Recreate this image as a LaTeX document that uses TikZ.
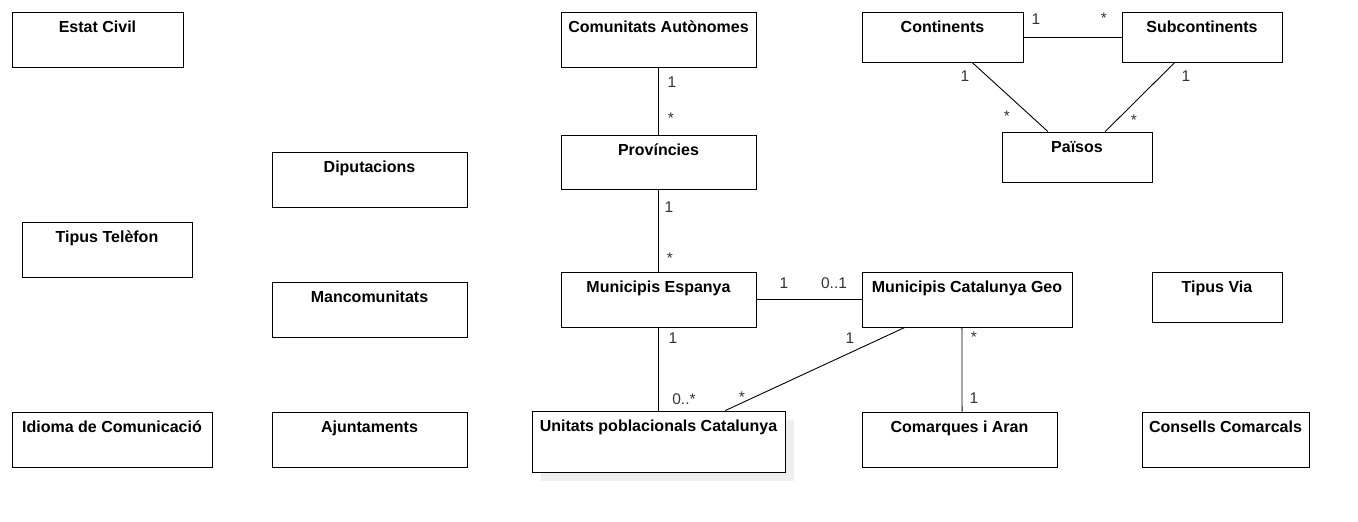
\documentclass[tikz,border=0pt]{standalone}
\usepackage{fontspec}
\setmainfont{Liberation Sans}
\usetikzlibrary{calc,backgrounds}
\definecolor{lblc}{HTML}{333333}
\definecolor{shadc}{HTML}{EFEFEF}
\tikzset{
  ent/.style={draw=black, fill=white, line width=0.9pt, inner sep=0pt, align=center,
    font=\fontsize{16}{18}\selectfont\bfseries, text height=20pt},
  h55/.style={text depth=35pt},
  h50/.style={text depth=30pt},
  h54/.style={text depth=34pt},
  h61/.style={text depth=41pt},
  conn/.style={draw=black, line width=0.9pt},
  mult/.style={text=lblc, font=\fontsize{15.5}{18}\selectfont, inner sep=0pt}
}
\begin{document}
\begin{tikzpicture}[x=1pt,y=-1pt]
\useasboundingbox (0,0) rectangle (1358,522);
% entities
\node[ent,h55,minimum width=171pt] (estat) at (97.5,39.5) {Estat Civil};
\node[ent,h55,minimum width=195pt] (comunitats) at (658.5,39.5) {Comunitats Autònomes};
\node[ent,h50,minimum width=161pt] (continents) at (942.5,37) {Continents};
\node[ent,h50,minimum width=160pt] (subcont) at (1202,37) {Subcontinents};
\node[ent,h50,minimum width=150pt] (paisos) at (1077,157) {Països};
\node[ent,h55,minimum width=195pt] (diputacions) at (369.5,179.5) {Diputacions};
\node[ent,h54,minimum width=195pt] (provincies) at (658.5,162) {Províncies};
\node[ent,h55,minimum width=170pt] (tipustel) at (107,249.5) {Tipus Telèfon};
\node[ent,h55,minimum width=195pt] (mancom) at (369.5,309.5) {Mancomunitats};
\node[ent,h55,minimum width=195pt] (munesp) at (658.5,299.5) {Municipis Espanya};
\node[ent,h55,minimum width=210pt] (mcg) at (967,299.5) {Municipis Catalunya Geo};
\node[ent,h50,minimum width=130pt] (tipusvia) at (1217,297) {Tipus Via};
\node[ent,h55,minimum width=200pt] (idioma) at (112,439.5) {Idioma de Comunicació};
\node[ent,h55,minimum width=195pt] (ajunt) at (369.5,439.5) {Ajuntaments};
\node[ent,h61,minimum width=253pt] (unitats) at (658.5,441.5) {Unitats poblacionals Catalunya};
\node[ent,h55,minimum width=195pt] (comarques) at (959.5,439.5) {Comarques i Aran};
\node[ent,h55,minimum width=167pt] (consells) at (1225.5,439.5) {Consells Comarcals};
% shadow
\begin{scope}[on background layer]
\fill[shadc] ($(unitats.north west)+(9,9)$) rectangle ($(unitats.south east)+(9,9)$);
\end{scope}
% connectors
\draw[conn] (comunitats.south) -- (provincies.north);
\draw[conn] (provincies.south) -- (munesp.north);
\draw[conn] (munesp.east) -- (mcg.west);
\draw[conn] (munesp.south) -- (unitats.north);
\draw[conn] ($(mcg.south west)!0.205!(mcg.south east)$) -- ($(unitats.north west)!0.763!(unitats.north east)$);
\draw[conn] ($(mcg.south west)!0.476!(mcg.south east)$) -- ($(comarques.north west)!0.513!(comarques.north east)$);
\draw[conn] (continents.east) -- (subcont.west);
\draw[conn] ($(continents.south west)!0.683!(continents.south east)$) -- ($(paisos.north west)!0.307!(paisos.north east)$);
\draw[conn] ($(subcont.south west)!0.331!(subcont.south east)$) -- ($(paisos.north west)!0.687!(paisos.north east)$);
% multiplicities
\node[mult] (m1) at (672,82) {1};
\node[mult] (m2) at (671,118) {*};
\node[mult] (m3) at (669,207) {1};
\node[mult] (m4) at (670,258) {*};
\node[mult] (m5) at (784,283) {1};
\node[mult] (m6) at (834,283) {0..1};
\node[mult] (m7) at (673,338) {1};
\node[mult] (m8) at (684,399) {0..*};
\node[mult] (m9) at (850,338) {1};
\node[mult] (m10) at (742,397) {*};
\node[mult] (m11) at (974,337) {*};
\node[mult] (m12) at (974,398) {1};
\node[mult] (m13) at (1036,19) {1};
\node[mult] (m14) at (1104,18) {*};
\node[mult] (m15) at (965,76) {1};
\node[mult] (m16) at (1007,116) {*};
\node[mult] (m17) at (1186,76) {1};
\node[mult] (m18) at (1134,120) {*};
\end{tikzpicture}
\end{document}
